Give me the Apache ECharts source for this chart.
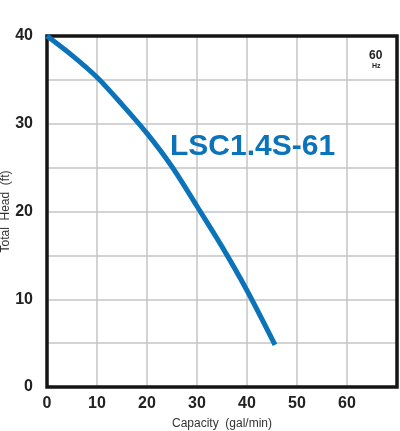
<!DOCTYPE html>
<html>
<head>
<meta charset="utf-8">
<script src="https://cdn.jsdelivr.net/npm/echarts@6/dist/echarts.min.js"></script>
<style>
  html, body { margin: 0; padding: 0; background: #fff; }
  #chart { width: 400px; height: 431px; }
</style>
</head>
<body>
<div id="chart"></div>
<script>
// capacity (gal/min) vs total head (ft)
const capacity = [0, 5, 10, 15, 20, 25, 30, 35, 40, 45.6];
const head = [40, 37.8, 35.3, 32.2, 28.9, 25.1, 20.6, 16, 11, 4.8];
const modelName = 'LSC1.4S-61';
const freqLabel = '60';

const curve = capacity.map((c, i) => [c, head[i]]);
const blue = '#0b73ba';
const font = 'Liberation Sans, Arial, Helvetica, sans-serif';

const chart = echarts.init(document.getElementById('chart'));
chart.setOption({
  animation: false,
  grid: {
    left: 47, top: 36, right: 3, bottom: 44,
    outerBoundsMode: 'none', containLabel: false,
    show: true, borderColor: '#151515', borderWidth: 3.5, backgroundColor: 'transparent', z: 5
  },
  xAxis: {
    type: 'value', min: 0, max: 70, interval: 10,
    name: 'Capacity  (gal/min)', nameLocation: 'middle', nameGap: 31, nameMoveOverlap: false,
    nameTextStyle: { fontFamily: font, fontSize: 12, color: '#333' },
    axisLine: { show: false },
    axisTick: { show: false },
    axisLabel: {
      margin: 9, fontFamily: font, fontSize: 16, fontWeight: 'bold', color: '#222',
      formatter: v => (v >= 70 ? '' : String(v))
    },
    splitLine: { showMinLine: false, showMaxLine: false, lineStyle: { color: '#c4c4c4', width: 1.5 } }
  },
  yAxis: {
    type: 'value', min: 0, max: 40, interval: 5,
    name: 'Total  Head  (ft)', nameLocation: 'middle', nameGap: 35, nameMoveOverlap: false,
    nameTextStyle: { fontFamily: font, fontSize: 12, color: '#333' },
    axisLine: { show: false },
    axisTick: { show: false },
    axisLabel: {
      margin: 14, fontFamily: font, fontSize: 16, fontWeight: 'bold', color: '#222',
      formatter: v => (v % 10 === 0 ? String(v) : '')
    },
    splitLine: { showMinLine: false, showMaxLine: false, lineStyle: { color: '#c4c4c4', width: 1.5 } }
  },
  series: [{
    type: 'line',
    data: curve,
    smooth: 0.3,
    showSymbol: false,
    z: 10,
    lineStyle: { color: blue, width: 5, cap: 'butt' }
  }],
  graphic: [
    {
      type: 'text', left: 170, top: 132, z: 100,
      style: { text: modelName, fill: blue, font: 'bold 30px ' + font }
    },
    {
      type: 'text', left: 369, top: 50, z: 100,
      style: { text: freqLabel, fill: '#222', font: 'bold 12px ' + font }
    },
    {
      type: 'text', left: 372, top: 63, z: 100,
      style: { text: 'Hz', fill: '#222', font: 'bold 7px ' + font }
    }
  ]
});
</script>
</body>
</html>
